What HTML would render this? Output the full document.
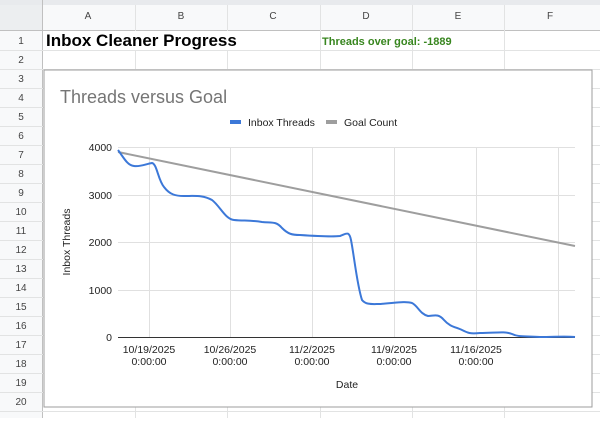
<!DOCTYPE html>
<html><head><style>
body{margin:0;width:600px;height:418px;overflow:hidden;background:#fff;font-family:"Liberation Sans",Arial,sans-serif;}
</style></head><body>
<svg width="600" height="418" xmlns="http://www.w3.org/2000/svg" font-family="Liberation Sans, Arial, sans-serif">
<rect x="0" y="0" width="600" height="418" fill="#fff"/>
<rect x="0" y="0" width="600" height="30" fill="#f8f9fa"/>
<rect x="0" y="0" width="42" height="418" fill="#f8f9fa"/>
<rect x="0" y="0" width="42" height="30" fill="#eceef0"/>
<rect x="0" y="0" width="600" height="5" fill="#e8eaed"/>
<g stroke="#e2e3e3" stroke-width="1">
<line x1="0" y1="30.5" x2="600" y2="30.5" stroke="#c0c0c0"/>
<line x1="42.5" y1="0" x2="42.5" y2="418" stroke="#c0c0c0"/>
<line x1="135.5" y1="5" x2="135.5" y2="418"/>
<line x1="227.5" y1="5" x2="227.5" y2="418"/>
<line x1="320.5" y1="5" x2="320.5" y2="418"/>
<line x1="412.5" y1="5" x2="412.5" y2="418"/>
<line x1="504.5" y1="5" x2="504.5" y2="418"/>
<line x1="0" y1="50.5" x2="600" y2="50.5"/>
<line x1="0" y1="69.5" x2="600" y2="69.5"/>
<line x1="0" y1="88.5" x2="600" y2="88.5"/>
<line x1="0" y1="107.5" x2="600" y2="107.5"/>
<line x1="0" y1="126.5" x2="600" y2="126.5"/>
<line x1="0" y1="145.5" x2="600" y2="145.5"/>
<line x1="0" y1="164.5" x2="600" y2="164.5"/>
<line x1="0" y1="183.5" x2="600" y2="183.5"/>
<line x1="0" y1="202.5" x2="600" y2="202.5"/>
<line x1="0" y1="221.5" x2="600" y2="221.5"/>
<line x1="0" y1="240.5" x2="600" y2="240.5"/>
<line x1="0" y1="259.5" x2="600" y2="259.5"/>
<line x1="0" y1="278.5" x2="600" y2="278.5"/>
<line x1="0" y1="297.5" x2="600" y2="297.5"/>
<line x1="0" y1="316.5" x2="600" y2="316.5"/>
<line x1="0" y1="335.5" x2="600" y2="335.5"/>
<line x1="0" y1="354.5" x2="600" y2="354.5"/>
<line x1="0" y1="373.5" x2="600" y2="373.5"/>
<line x1="0" y1="392.5" x2="600" y2="392.5"/>
<line x1="0" y1="411.5" x2="600" y2="411.5"/>
</g>
<g font-size="10" fill="#444" text-anchor="middle">
<text x="88" y="19">A</text><text x="181" y="19">B</text><text x="273" y="19">C</text><text x="366" y="19">D</text><text x="458" y="19">E</text><text x="550" y="19">F</text>
<text x="21" y="44">1</text><text x="21" y="63">2</text><text x="21" y="82">3</text><text x="21" y="101">4</text><text x="21" y="120">5</text><text x="21" y="139">6</text><text x="21" y="158">7</text><text x="21" y="177">8</text><text x="21" y="196">9</text><text x="21" y="215">10</text><text x="21" y="234">11</text><text x="21" y="253">12</text><text x="21" y="272">13</text><text x="21" y="291">14</text><text x="21" y="310">15</text><text x="21" y="329">16</text><text x="21" y="348">17</text><text x="21" y="367">18</text><text x="21" y="386">19</text><text x="21" y="405">20</text>
</g>
<rect x="43" y="31" width="277" height="19" fill="#fff"/>
<text x="46" y="46" font-size="17" font-weight="bold" fill="#000">Inbox Cleaner Progress</text>
<text x="322" y="45" font-size="11" font-weight="bold" fill="#38861f">Threads over goal: -1889</text>
<rect x="44" y="70" width="548" height="337" fill="#fff" stroke="#9e9e9e" stroke-width="1"/>
<text x="60" y="103" font-size="18" fill="#757575">Threads versus Goal</text>
<rect x="230" y="120" width="11" height="4" fill="#3c78d8"/>
<text x="248" y="126" font-size="10.5" fill="#222">Inbox Threads</text>
<rect x="326" y="120" width="11" height="4" fill="#9e9e9e"/>
<text x="344" y="126" font-size="10.5" fill="#222">Goal Count</text>
<g stroke="#e0e0e0" stroke-width="1">
<line x1="118" y1="147.5" x2="575" y2="147.5"/>
<line x1="118" y1="195.5" x2="575" y2="195.5"/>
<line x1="118" y1="242.5" x2="575" y2="242.5"/>
<line x1="118" y1="290.5" x2="575" y2="290.5"/>
<line x1="149.5" y1="147" x2="149.5" y2="337"/>
<line x1="230.5" y1="147" x2="230.5" y2="337"/>
<line x1="312.5" y1="147" x2="312.5" y2="337"/>
<line x1="394.5" y1="147" x2="394.5" y2="337"/>
<line x1="476.5" y1="147" x2="476.5" y2="337"/>
<line x1="558.5" y1="147" x2="558.5" y2="337"/>
</g>
<line x1="118" y1="337.5" x2="575" y2="337.5" stroke="#333" stroke-width="1"/>
<g font-size="10.5" fill="#222" text-anchor="end">
<text x="112" y="151">4000</text><text x="112" y="199">3000</text><text x="112" y="246">2000</text><text x="112" y="294">1000</text><text x="112" y="341">0</text>
</g>
<g font-size="10.5" fill="#222" text-anchor="middle">
<text x="149" y="353">10/19/2025</text><text x="149" y="365">0:00:00</text>
<text x="230" y="353">10/26/2025</text><text x="230" y="365">0:00:00</text>
<text x="312" y="353">11/2/2025</text><text x="312" y="365">0:00:00</text>
<text x="394" y="353">11/9/2025</text><text x="394" y="365">0:00:00</text>
<text x="476" y="353">11/16/2025</text><text x="476" y="365">0:00:00</text>
<text x="347" y="388">Date</text>
<text transform="translate(70,242) rotate(-90)">Inbox Threads</text>
</g>
<line x1="118" y1="152" x2="575" y2="246" stroke="#9e9e9e" stroke-width="2"/>
<path d="M118,150 C124,158 127,165 134,166 C140,167 146,164 152,163 C157,164 158,180 164,187 C170,195 176,196 184,196 C196,196 203,195 212,200 C220,206 225,219 234,220 C244,221 250,220 262,222 C272,223 276,221 282,228 C288,234 292,235 300,235 C315,236 330,237 340,236 C346,234 349,230 351,240 C354,255 357,285 362,300 C366,305 372,304 380,304 C395,303 405,301 412,303 C418,306 420,314 428,316 C434,316 438,313 444,320 C450,327 456,327 462,330 C468,333 470,334 480,333 C495,333 505,331 512,334 C518,337 524,336 540,337 C555,337 565,336 575,337" fill="none" stroke="#3c78d8" stroke-width="2"/>
</svg>
</body></html>
